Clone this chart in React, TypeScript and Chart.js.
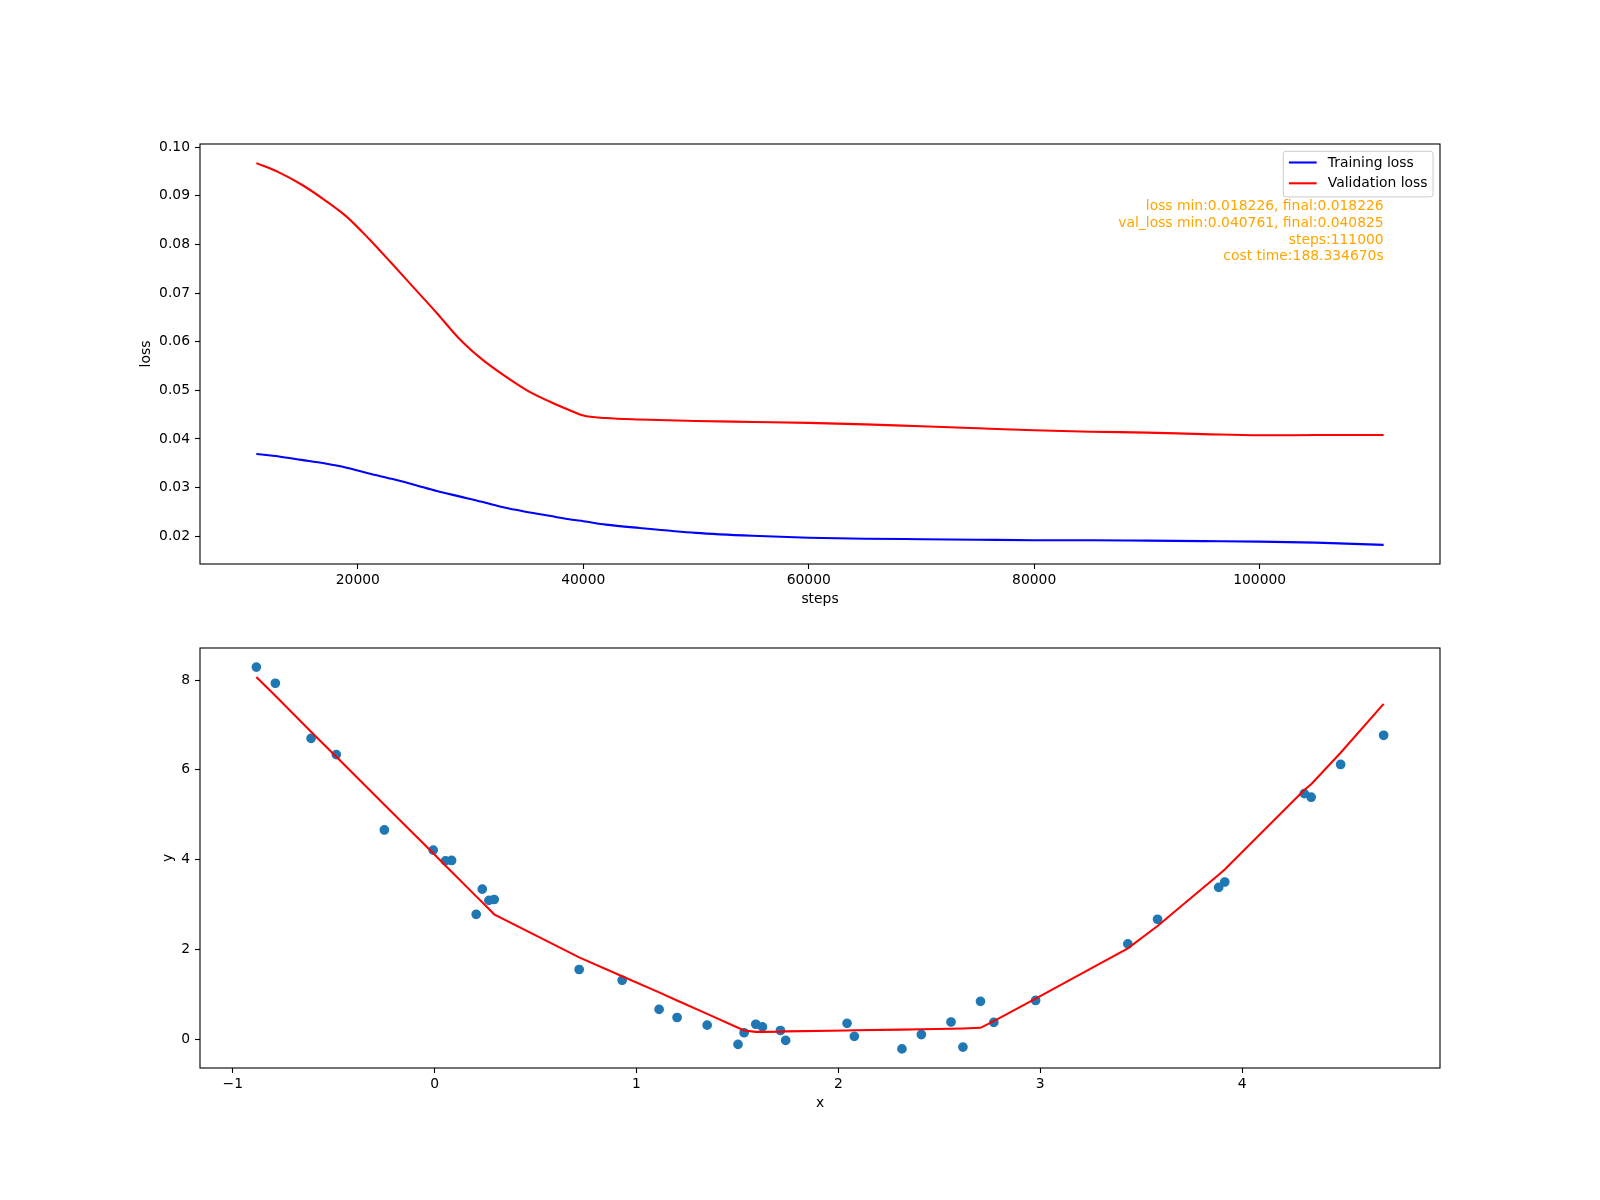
import React, { useEffect, useRef } from "react";
import { Chart, registerables } from "chart.js";

Chart.register(...registerables);

// ---------- Top panel: loss curves ----------
const steps = [
  11000, 13000, 15000, 17000, 19000, 21000, 23000, 25000, 27000, 29000, 31000,
  33000, 35000, 37000, 39000, 40000, 42000, 45000, 50000, 55000, 60000, 65000,
  70000, 75000, 80000, 85000, 90000, 95000, 100000, 105000, 111000,
];
const trainingLoss = [
  0.0369, 0.0364, 0.0357, 0.035, 0.0341, 0.0329, 0.0318, 0.0306, 0.0293, 0.0282,
  0.0271, 0.0259, 0.025, 0.0242, 0.0234, 0.0231, 0.0224, 0.0217, 0.0207, 0.0201,
  0.0197, 0.0195, 0.0194, 0.0193, 0.0192, 0.0192, 0.0191, 0.019, 0.0189, 0.0187,
  0.018226,
];
const validationLoss = [
  0.0967, 0.0948, 0.0923, 0.0892, 0.0857, 0.0811, 0.0761, 0.071, 0.0659, 0.0606,
  0.0564, 0.053, 0.05, 0.0477, 0.0457, 0.0448, 0.0443, 0.044, 0.0437, 0.0435,
  0.0433, 0.043, 0.0426, 0.0422, 0.0418, 0.0415, 0.0413, 0.041, 0.040761, 0.0408,
  0.040825,
];
const lossXTicks = [20000, 40000, 60000, 80000, 100000];
const lossYTicks = [0.02, 0.03, 0.04, 0.05, 0.06, 0.07, 0.08, 0.09, 0.1];
const legendLabels = ["Training loss", "Validation loss"];
const infoLines = [
  "loss min:0.018226, final:0.018226",
  "val_loss min:0.040761, final:0.040825",
  "steps:111000",
  "cost time:188.334670s",
];

// ---------- Bottom panel: scatter + fit ----------
const pointsX = [
  -0.883, -0.789, -0.612, -0.487, -0.249, -0.007, 0.054, 0.084, 0.206, 0.236,
  0.269, 0.295, 0.716, 0.929, 1.112, 1.201, 1.35, 1.503, 1.533, 1.591, 1.624,
  1.713, 1.739, 2.043, 2.079, 2.315, 2.411, 2.558, 2.617, 2.704, 2.77, 2.977,
  3.434, 3.581, 3.884, 3.914, 4.308, 4.342, 4.488, 4.701,
];
const pointsY = [
  8.29, 7.93, 6.7, 6.34, 4.66, 4.21, 3.97, 3.98, 2.78, 3.34, 3.09, 3.11, 1.55,
  1.31, 0.66, 0.48, 0.31, -0.12, 0.14, 0.33, 0.27, 0.19, -0.03, 0.35, 0.06,
  -0.22, 0.1, 0.38, -0.18, 0.84, 0.37, 0.86, 2.12, 2.67, 3.38, 3.5, 5.47, 5.39,
  6.12, 6.77,
];
const fitY = [
  8.07, 7.65, 6.85, 6.29, 5.22, 4.14, 3.86, 3.73, 3.18, 3.05, 2.9, 2.78, 1.82,
  1.4, 1.04, 0.86, 0.56, 0.25, 0.19, 0.16, 0.16, 0.165, 0.17, 0.19, 0.195, 0.21,
  0.22, 0.23, 0.235, 0.25, 0.4, 0.9, 2.02, 2.52, 3.66, 3.78, 5.55, 5.68, 6.38,
  7.47,
];
const fitXTicks = [-1, 0, 1, 2, 3, 4];
const fitYTicks = [0, 2, 4, 6, 8];

// ---------- styling ----------
const FONT = "DejaVu Sans";
const FS = 13.89;
const W = 1600;
const TOP_H = 620;
const BOT_H = 580;

const margin = (lo: number, hi: number) => {
  const r = hi - lo;
  return [lo - 0.05 * r, hi + 0.05 * r];
};

const minus = (v: number) => (v < 0 ? "\u2212" + Math.abs(v) : String(v));

const framePlugin = {
  id: "frame",
  afterDraw(chart: any) {
    const { ctx, chartArea } = chart;
    ctx.save();
    ctx.strokeStyle = "#000";
    ctx.lineWidth = 1.1;
    ctx.strokeRect(
      chartArea.left,
      chartArea.top,
      chartArea.right - chartArea.left,
      chartArea.bottom - chartArea.top
    );
    ctx.restore();
  },
};

const lossExtrasPlugin = {
  id: "lossExtras",
  afterDraw(chart: any) {
    const { ctx, chartArea } = chart;
    ctx.save();
    ctx.font = `${FS}px "${FONT}"`;
    // legend
    const pad = 5.56;
    const handle = 27.78;
    const gap = 11.11;
    const textW = Math.max(...legendLabels.map((l) => ctx.measureText(l).width));
    const w = pad + handle + gap + textW + pad;
    const h = 45.6;
    const right = chartArea.right - 6.94;
    const top = chartArea.top + 7.3;
    const left = right - w;
    const r = 2.8;
    ctx.beginPath();
    ctx.moveTo(left + r, top);
    ctx.lineTo(right - r, top);
    ctx.quadraticCurveTo(right, top, right, top + r);
    ctx.lineTo(right, top + h - r);
    ctx.quadraticCurveTo(right, top + h, right - r, top + h);
    ctx.lineTo(left + r, top + h);
    ctx.quadraticCurveTo(left, top + h, left, top + h - r);
    ctx.lineTo(left, top + r);
    ctx.quadraticCurveTo(left, top, left + r, top);
    ctx.closePath();
    ctx.fillStyle = "rgba(255,255,255,0.8)";
    ctx.fill();
    ctx.strokeStyle = "#cccccc";
    ctx.lineWidth = 1;
    ctx.stroke();
    chart.data.datasets.forEach((ds: any, i: number) => {
      const y = top + 11.2 + i * 20.8;
      ctx.beginPath();
      ctx.moveTo(left + pad, y);
      ctx.lineTo(left + pad + handle, y);
      ctx.strokeStyle = ds.borderColor;
      ctx.lineWidth = 2.08;
      ctx.stroke();
      ctx.fillStyle = "#000";
      ctx.textAlign = "left";
      ctx.textBaseline = "middle";
      ctx.fillText(legendLabels[i], left + pad + handle + gap, y + 0.5);
    });
    // info text
    const xr = chart.scales.x.getPixelForValue(steps[steps.length - 1]);
    ctx.fillStyle = "#FFA500";
    ctx.textAlign = "right";
    ctx.textBaseline = "middle";
    infoLines.forEach((t, i) => {
      ctx.fillText(t, xr, chartArea.top + 62.5 + i * 16.7);
    });
    ctx.restore();
  },
};

const axisCommon = {
  grid: {
    drawOnChartArea: false,
    drawTicks: true,
    tickLength: 5,
    tickColor: "#000",
    tickWidth: 1.1,
  },
  border: { display: false },
};

function makeXAxis(min: number, max: number, ticks: number[], title: string, fmt: (v: number) => string) {
  return {
    type: "linear",
    position: "bottom",
    min,
    max,
    ...axisCommon,
    afterBuildTicks: (s: any) => {
      s.ticks = ticks.map((v) => ({ value: v }));
    },
    afterFit: (s: any) => {
      s.height = 50;
    },
    ticks: {
      color: "#000",
      font: { family: FONT, size: FS },
      padding: 3,
      maxRotation: 0,
      autoSkip: false,
      callback: (v: any) => fmt(Number(v)),
    },
    title: {
      display: true,
      text: title,
      color: "#000",
      font: { family: FONT, size: FS },
      padding: { top: 0, bottom: 6.65 },
    },
  };
}

function makeYAxis(min: number, max: number, ticks: number[], title: string, titleCenter: number, fmt: (v: number) => string) {
  return {
    type: "linear",
    position: "left",
    min,
    max,
    ...axisCommon,
    afterBuildTicks: (s: any) => {
      s.ticks = ticks.map((v) => ({ value: v }));
    },
    afterFit: (s: any) => {
      s.width = 200;
    },
    ticks: {
      color: "#000",
      font: { family: FONT, size: FS },
      padding: 5,
      autoSkip: false,
      callback: (v: any) => fmt(Number(v)),
    },
    title: {
      display: true,
      text: title,
      color: "#000",
      font: { family: FONT, size: FS },
      padding: { top: titleCenter - (FS * 1.2) / 2, bottom: 0 },
    },
  };
}

export default function App() {
  const topRef = useRef<HTMLCanvasElement | null>(null);
  const botRef = useRef<HTMLCanvasElement | null>(null);

  useEffect(() => {
    const [lxMin, lxMax] = margin(steps[0], steps[steps.length - 1]);
    const allLoss = [...trainingLoss, ...validationLoss];
    const [lyMin, lyMax] = margin(Math.min(...allLoss), Math.max(...allLoss));

    const top = new Chart(topRef.current as HTMLCanvasElement, {
      type: "line",
      data: {
        datasets: [
          {
            label: legendLabels[0],
            data: steps.map((s, i) => ({ x: s, y: trainingLoss[i] })),
            borderColor: "#0000ff",
            backgroundColor: "#0000ff",
            borderWidth: 2.08,
            pointRadius: 0,
            cubicInterpolationMode: "monotone",
          },
          {
            label: legendLabels[1],
            data: steps.map((s, i) => ({ x: s, y: validationLoss[i] })),
            borderColor: "#ff0000",
            backgroundColor: "#ff0000",
            borderWidth: 2.08,
            pointRadius: 0,
            cubicInterpolationMode: "monotone",
          },
        ],
      },
      options: {
        animation: false,
        responsive: false,
        devicePixelRatio: 1,
        layout: { padding: { left: 0, right: 160, top: 144, bottom: 6 } },
        plugins: { legend: { display: false }, tooltip: { enabled: false } },
        scales: {
          x: makeXAxis(lxMin, lxMax, lossXTicks, "steps", (v) => String(v)),
          y: makeYAxis(lyMin, lyMax, lossYTicks, "loss", 146, (v) => v.toFixed(2)),
        },
      } as any,
      plugins: [framePlugin, lossExtrasPlugin],
    });

    const [fxMin, fxMax] = margin(Math.min(...pointsX), Math.max(...pointsX));
    const allY = [...pointsY, ...fitY];
    const [fyMin, fyMax] = margin(Math.min(...allY), Math.max(...allY));

    const bot = new Chart(botRef.current as HTMLCanvasElement, {
      type: "scatter",
      data: {
        datasets: [
          {
            label: "fit",
            data: pointsX.map((x, i) => ({ x, y: fitY[i] })),
            showLine: true,
            borderColor: "#ff0000",
            backgroundColor: "#ff0000",
            borderWidth: 2.08,
            pointRadius: 0,
            tension: 0,
          },
          {
            label: "data",
            data: pointsX.map((x, i) => ({ x, y: pointsY[i] })),
            showLine: false,
            backgroundColor: "#1f77b4",
            borderColor: "#1f77b4",
            borderWidth: 1.3,
            pointRadius: 4.2,
          },
        ],
      },
      options: {
        animation: false,
        responsive: false,
        devicePixelRatio: 1,
        layout: { padding: { left: 0, right: 160, top: 28, bottom: 82 } },
        plugins: { legend: { display: false }, tooltip: { enabled: false } },
        scales: {
          x: makeXAxis(fxMin, fxMax, fitXTicks, "x", minus),
          y: makeYAxis(fyMin, fyMax, fitYTicks, "y", 168, minus),
        },
      } as any,
      plugins: [framePlugin],
    });

    return () => {
      top.destroy();
      bot.destroy();
    };
  }, []);

  return (
    <div
      style={{
        position: "absolute",
        left: 0,
        top: 0,
        width: W,
        height: TOP_H + BOT_H,
        background: "#fff",
        overflow: "hidden",
      }}
    >
      <canvas
        ref={topRef}
        width={W}
        height={TOP_H}
        style={{ position: "absolute", left: 0, top: 0, width: W, height: TOP_H }}
      />
      <canvas
        ref={botRef}
        width={W}
        height={BOT_H}
        style={{ position: "absolute", left: 0, top: TOP_H, width: W, height: BOT_H }}
      />
    </div>
  );
}
